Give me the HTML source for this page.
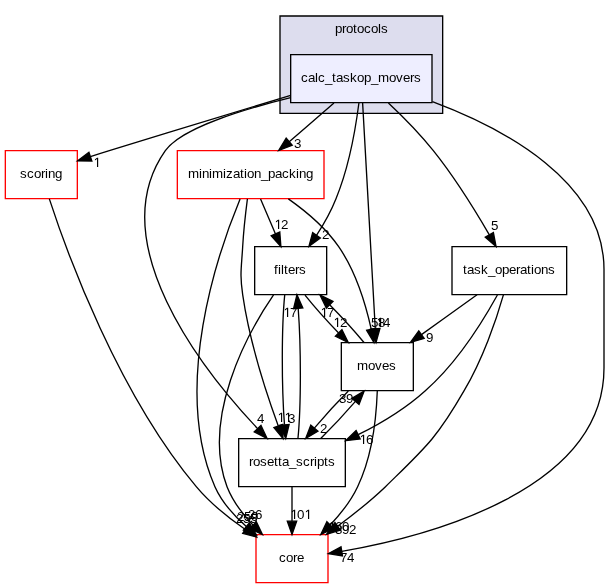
<!DOCTYPE html>
<html><head><meta charset="utf-8"><title>calc_taskop_movers</title>
<style>
html,body{margin:0;padding:0;background:#fff;}
svg{display:block;will-change:transform;}
text{font-family:"Liberation Sans",sans-serif;font-size:13.33px;fill:#000;stroke:none;}
path[transform]{fill:#000;stroke:none;}
</style></head><body>
<svg width="609" height="588" viewBox="0 0 609 588">
<rect x="0" y="0" width="609" height="588" fill="#fff"/>
<g stroke-width="1.33">
<polygon fill="#ddddee" stroke="#000" points="280,16 442.67,16 442.67,113.33 280,113.33"/>
<text x="335 342 346 353 357 364 371 378 381" y="33">protocols</text>
<polygon fill="#eeeeff" stroke="black" points="290.67,54.67 432,54.67 432,102.67 290.67,102.67"/>
<text x="301 308 315 318 325 332 336 343 350 357 364 371 378 389 396 403 410 414" y="82">calc_taskop_movers</text>
<polygon fill="white" stroke="red" points="5.33,150.67 77.33,150.67 77.33,198.67 5.33,198.67"/>
<text x="20 27 34 41 45 48 55" y="178">scoring</text>
<polygon fill="white" stroke="red" points="177.33,150.67 324,150.67 324,198.67 177.33,198.67"/>
<text x="188 199 202 209 212 223 226 233 240 244 247 254 261 268 275 282 289 296 299 306" y="178">minimization_packing</text>
<polygon fill="none" stroke="black" points="254.67,246.67 326.67,246.67 326.67,294.67 254.67,294.67"/>
<text x="274 278 281 284 288 295 299" y="274">filters</text>
<polygon fill="none" stroke="black" points="452,246.67 566.67,246.67 566.67,294.67 452,294.67"/>
<text x="463 467 474 481 488 495 502 509 516 520 527 531 534 541 548" y="274">task_operations</text>
<polygon fill="none" stroke="black" points="341.33,342.67 413.33,342.67 413.33,390.67 341.33,390.67"/>
<text x="357 368 375 382 389" y="370">moves</text>
<polygon fill="none" stroke="black" points="238.67,438.67 345.33,438.67 345.33,486.67 238.67,486.67"/>
<text x="249 253 260 267 274 278 282 289 296 303 310 314 317 324 328" y="466">rosetta_scripts</text>
<polygon fill="white" stroke="red" points="256,534.67 328,534.67 328,582.67 256,582.67"/>
<text x="279 286 293 297" y="562">core</text>
<!-- b to scoring -->
<path fill="none" stroke="#000" d="M290.67,95.4C239.5,111 170,131.8 109.33,150.67 103.19,152.55 96.76,154.6 90.4,156.67"/>
<polygon fill="#000" stroke="#000" points="88.94,152.24 77.57,160.89 91.86,161.1"/>
<path transform="translate(92.83 167) scale(0.00651 -0.00651)" d="M640 0V1237L322 1010V1180L655 1409H821V0Z"/>
<!-- b to minpack -->
<path fill="none" stroke="#000" d="M333.97,103.07C320.47,114.71 304.01,129.01 289.21,141.67"/>
<polygon fill="#000" stroke="#000" points="286.2,138.1 278.71,150.53 292.22,145.24"/>
<text x="294" y="148">3</text>
<!-- b to filters -->
<path fill="none" stroke="#000" d="M358.91,103.03C355.76,127.48 349.07,166.91 336,198.67 331.01,211.27 323.76,224.09 316.5,235.31"/>
<polygon fill="#000" stroke="#000" points="312.65,232.67 308.95,246.31 320.35,237.95"/>
<text x="322" y="239">2</text>
<!-- b to taskops -->
<path fill="none" stroke="#000" d="M388.41,102.91C402.56,116.15 419.71,133.53 433.33,150.67 454.67,177.31 475.12,210.39 489.35,234.85"/>
<polygon fill="#000" stroke="#000" points="485.31,237.19 496.05,246.44 493.39,232.51"/>
<text x="491" y="230">5</text>
<!-- b to moves -->
<path fill="none" stroke="#000" d="M362.61,102.87C365.39,152.23 371.93,269.09 375.28,328.81"/>
<polygon fill="#000" stroke="#000" points="370.62,329.07 376.04,342.36 379.94,328.55"/>
<path transform="translate(375.83 327) scale(0.00651 -0.00651)" d="M640 0V1237L322 1010V1180L655 1409H821V0Z"/><text x="383" y="327">4</text>
<!-- b to rs -->
<path fill="none" stroke="#000" d="M290.67,97.7C242.21,109.53 180.82,128.62 165.33,150.67 101.53,241.49 201.9,369.24 257.6,428.61"/>
<polygon fill="#000" stroke="#000" points="254.23,431.83 267.1,438.55 260.97,425.39"/>
<text x="257" y="423">4</text>
<!-- b to core -->
<path fill="none" stroke="#000" d="M432.4,101.7C504.41,128.64 604,181.69 604,269.33 604,269.33 604,269.33 604,368 604,489.8 429.84,536 341.76,551.4"/>
<polygon fill="#000" stroke="#000" points="341,546.8 328.4,553.6 342.52,556"/>
<text x="340 347" y="562">74</text>
<!-- scoring to core -->
<path fill="none" stroke="#000" d="M49.33,198.84C67.11,253.36 118.15,393.56 196.27,486.67 210.06,503.13 228.37,517.81 245.31,529.47"/>
<polygon fill="#000" stroke="#000" points="242.7,533.34 256.49,537.03 247.92,525.6"/>
<text x="236 243 250" y="523">255</text>
<!-- minpack to filters -->
<path fill="none" stroke="#000" d="M260.56,199.07C265.05,209.59 270.49,222.27 275.49,233.93"/>
<polygon fill="#000" stroke="#000" points="271.2,235.77 280.89,246.53 279.78,232.09"/>
<path transform="translate(273.83 229) scale(0.00651 -0.00651)" d="M640 0V1237L322 1010V1180L655 1409H821V0Z"/><text x="281" y="229">2</text>
<!-- minpack to moves -->
<path fill="none" stroke="#000" d="M288.36,198.88C305.8,211.15 325.52,227.64 338.67,246.67 355.84,271.52 365.77,304.49 371.27,329.37"/>
<polygon fill="#000" stroke="#000" points="366.69,330.29 373.93,342.61 375.85,328.45"/>
<text x="371 378" y="327">58</text>
<!-- minpack to rs -->
<path fill="none" stroke="#000" d="M247.41,198.85C245.61,212.67 243.57,230.64 242.67,246.67 241.47,267.96 239.61,273.56 242.67,294.67 249.4,341.12 266.16,392.67 278.29,425.96"/>
<polygon fill="#000" stroke="#000" points="273.92,427.59 283,438.61 282.66,424.33"/>
<path transform="translate(276.83 422) scale(0.00651 -0.00651)" d="M640 0V1237L322 1010V1180L655 1409H821V0Z"/><path transform="translate(283.83 422) scale(0.00651 -0.00651)" d="M640 0V1237L322 1010V1180L655 1409H821V0Z"/>
<!-- minpack to core -->
<path fill="none" stroke="#000" d="M240.08,199.05C218.04,252.29 171.47,386.95 214.93,486.67 221.83,502.12 233.86,515.61 246.35,526.55"/>
<polygon fill="#000" stroke="#000" points="243.35,530.12 256.56,535.12 249.35,522.98"/>
<text x="237 244 251" y="521">259</text>
<!-- filters to moves -->
<path fill="none" stroke="#000" d="M305,295.07C314.13,306.48 326.56,320.45 338.63,332.93"/>
<polygon fill="#000" stroke="#000" points="335.34,336.24 348.29,342.53 341.92,329.62"/>
<path transform="translate(332.83 327) scale(0.00651 -0.00651)" d="M640 0V1237L322 1010V1180L655 1409H821V0Z"/><text x="340" y="327">2</text>
<!-- filters to rs -->
<path fill="none" stroke="#000" d="M284.72,294.84C281.53,327.11 281.56,386.39 284.47,424.81"/>
<polygon fill="#000" stroke="#000" points="279.82,425.24 285.72,438.41 289.12,424.38"/>
<text x="288" y="423">3</text>
<!-- filters to core -->
<path fill="none" stroke="#000" d="M273.56,294.99C246.2,334.73 201.49,418.6 227.03,486.67 232.65,501.07 242.65,514.24 253.09,525.2"/>
<polygon fill="#000" stroke="#000" points="249.78,528.49 262.47,534.61 256.4,521.91"/>
<text x="248 255" y="519">26</text>
<!-- taskops to moves -->
<path fill="none" stroke="#000" d="M477.04,294.83C460.31,306.81 439.62,321.65 421.47,334.63"/>
<polygon fill="#000" stroke="#000" points="418.78,330.82 410.45,342.41 424.16,338.44"/>
<text x="426" y="342">9</text>
<!-- taskops to rs -->
<path fill="none" stroke="#000" d="M497.41,294.96C483.09,320.81 457,362.84 425.33,390.67 405.75,408.39 381.23,423.2 358.17,434.71"/>
<polygon fill="#000" stroke="#000" points="356.15,430.5 345.7,440.7 360.19,438.92"/>
<path transform="translate(358.83 444) scale(0.00651 -0.00651)" d="M640 0V1237L322 1010V1180L655 1409H821V0Z"/><text x="366" y="444">6</text>
<!-- taskops to core -->
<path fill="none" stroke="#000" d="M503.41,294.91C496.47,319.6 482.52,359.56 464.13,390.67 436.41,438.95 424.88,448.08 385.5,486.67 370.83,500.64 353.39,514.55 337.63,526.28"/>
<polygon fill="#000" stroke="#000" points="334.88,522.51 326.51,534.4 340.38,530.05"/>
<text x="335 342 349" y="534">392</text>
<!-- moves to filters -->
<path fill="none" stroke="#000" d="M364.01,342.53C354.64,331.15 341.93,317.19 329.65,304.69"/>
<polygon fill="#000" stroke="#000" points="332.94,301.38 319.97,295.07 326.36,308"/>
<path transform="translate(319.83 317) scale(0.00651 -0.00651)" d="M640 0V1237L322 1010V1180L655 1409H821V0Z"/><text x="327" y="317">7</text>
<!-- moves to rs -->
<path fill="none" stroke="#000" d="M348.35,391.07C337.17,402.27 324.74,415.91 314.35,428.19"/>
<polygon fill="#000" stroke="#000" points="310.77,425.19 305.69,438.53 317.93,431.19"/>
<text x="320" y="433">2</text>
<!-- moves to core -->
<path fill="none" stroke="#000" d="M377.29,391.04C376.4,415.87 372.44,455.91 357.63,486.67 351.05,500.68 340.69,513.87 330.17,524.97"/>
<polygon fill="#000" stroke="#000" points="326.84,521.7 320.77,534.56 333.5,528.24"/>
<path transform="translate(327.83 531) scale(0.00651 -0.00651)" d="M640 0V1237L322 1010V1180L655 1409H821V0Z"/><text x="335 342" y="531">60</text>
<!-- rs to filters -->
<path fill="none" stroke="#000" d="M297.96,438.41C301.13,406.11 301.11,346.81 298.2,308.43"/>
<polygon fill="#000" stroke="#000" points="302.85,308 296.95,294.84 293.55,308.86"/>
<path transform="translate(282.83 317) scale(0.00651 -0.00651)" d="M640 0V1237L322 1010V1180L655 1409H821V0Z"/><text x="290" y="317">7</text>
<!-- rs to moves -->
<path fill="none" stroke="#000" d="M320.71,438.53C332.08,427.37 344.81,413.75 355.43,401.44"/>
<polygon fill="#000" stroke="#000" points="359.01,404.44 364.13,391.07 351.85,398.44"/>
<text x="339 346" y="403">39</text>
<!-- rs to core -->
<path fill="none" stroke="#000" d="M292,487.07C292,497.36 292,509.72 292,521.19"/>
<polygon fill="#000" stroke="#000" points="287.33,521.19 292,534.53 296.67,521.19"/>
<path transform="translate(289.83 519) scale(0.00651 -0.00651)" d="M640 0V1237L322 1010V1180L655 1409H821V0Z"/><text x="297" y="519">0</text><path transform="translate(303.83 519) scale(0.00651 -0.00651)" d="M640 0V1237L322 1010V1180L655 1409H821V0Z"/>
</g></svg>
</body></html>
